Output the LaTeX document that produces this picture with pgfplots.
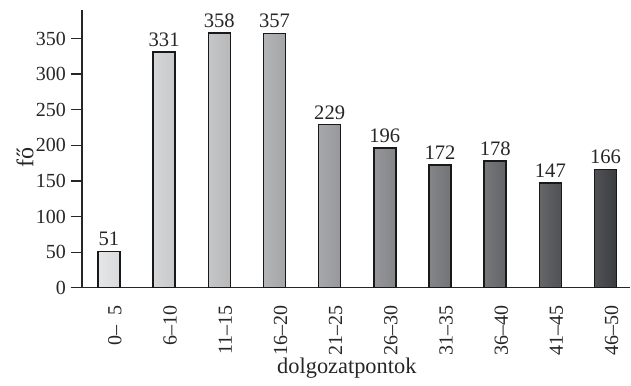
\documentclass[border=0pt]{standalone}
\usepackage{pgfplots}
\pgfplotsset{compat=1.18}
\usepackage{fontspec}
\setmainfont{Liberation Serif}

% bar greys, light to dark
\definecolor{g0}{HTML}{E2E3E5}
\definecolor{g1}{HTML}{D0D1D3}
\definecolor{g2}{HTML}{BFC0C2}
\definecolor{g3}{HTML}{ABACAE}
\definecolor{g4}{HTML}{9D9EA1}
\definecolor{g5}{HTML}{8A8B8E}
\definecolor{g6}{HTML}{77787B}
\definecolor{g7}{HTML}{67686B}
\definecolor{g8}{HTML}{545558}
\definecolor{g9}{HTML}{3E3F42}

\tikzset{gbar/.style={draw=black!90, line width=0.75pt, left color=#1!90!white, right color=#1!96!black}}

\begin{document}
\begin{tikzpicture}
\begin{axis}[
  at={(0,0)}, anchor=south west,
  scale only axis,
  width=274.5pt, height=139pt,
  xmin=-0.49, xmax=9.45,
  ymin=0, ymax=390,
  axis x line*=bottom, axis y line*=left,
  axis line style={-, line width=0.6pt, black!85},
  ytick={0,50,...,350},
  xtick={0,...,9},
  xticklabels={{0–\phantom{0}5},{6–10},{11–15},{16–20},{21–25},{26–30},{31–35},{36–40},{41–45},{46–50}},
  xtick style={draw=none},
  ytick style={line width=0.6pt, black!85},
  tick align=outside,
  major tick length=5.5pt,
  /pgf/number format/assume math mode=true,
  tick label style={font=\fontsize{10}{12}\selectfont, text=black!85},
  xticklabel style={rotate=90, anchor=east, yshift=-3pt},
  yticklabel style={xshift=1pt},
  ybar, bar width=11pt, bar shift=0pt,
  nodes near coords,
  every node near coord/.append style={font=\fontsize{10.3}{12}\selectfont, text=black!85, yshift=-1pt},
  ylabel={fő},
  ylabel style={font=\fontsize{12}{14}\selectfont, text=black!85, at={(axis description cs:-0.1038,0.47)}, anchor=center},
  xlabel={dolgozatpontok},
  xlabel style={font=\fontsize{11.2}{14}\selectfont, text=black!85, at={(axis description cs:0.483,0)}, anchor=base, yshift=-43pt},
  clip=false,
]
\addplot[gbar=g0] coordinates {(0,51)};
\addplot[gbar=g1] coordinates {(1,331)};
\addplot[gbar=g2] coordinates {(2,358)};
\addplot[gbar=g3] coordinates {(3,357)};
\addplot[gbar=g4] coordinates {(4,229)};
\addplot[gbar=g5] coordinates {(5,196)};
\addplot[gbar=g6] coordinates {(6,172)};
\addplot[gbar=g7] coordinates {(7,178)};
\addplot[gbar=g8] coordinates {(8,147)};
\addplot[gbar=g9] coordinates {(9,166)};
\end{axis}
\useasboundingbox (-41pt,-45.5pt) rectangle (274.5pt,144pt);
\end{tikzpicture}
\end{document}
